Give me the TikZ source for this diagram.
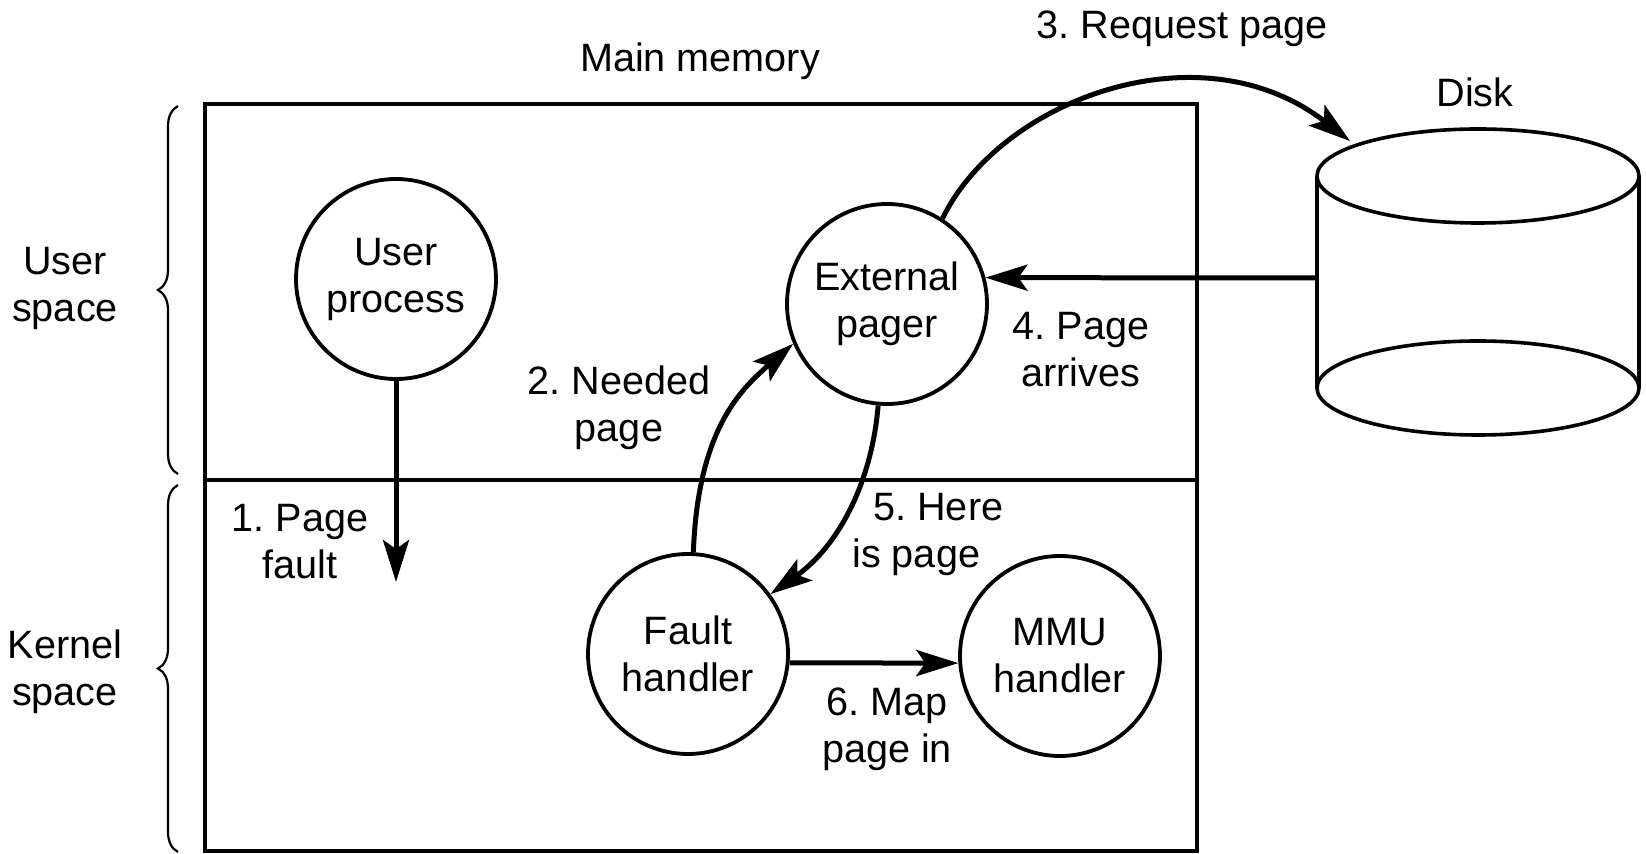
\documentclass[tikz,border=0pt]{standalone}
\usepackage{fontspec}
\setmainfont{Liberation Sans}
\usetikzlibrary{arrows.meta,decorations.pathreplacing}
\frenchspacing
\begin{document}
\begin{tikzpicture}[x=0.5pt,y=-0.5pt,
  txt/.style={font=\fontsize{19.8}{23.5}\selectfont, align=center, inner sep=0pt},
  proc/.style={circle, draw, line width=1.9pt, minimum size=100pt, inner sep=0pt,
               font=\fontsize{19.8}{23.5}\selectfont, align=center},
  arr/.style={line width=2.5pt, -{Stealth[length=21pt,width=13pt,inset=4.5pt]}},
  brc/.style={decorate, decoration={brace, amplitude=10pt}, line width=1.1pt},
  frame/.style={line width=1.8pt}]
\useasboundingbox (0,0) rectangle (1646,854);

% main memory box and divider
\draw[frame] (205,104) rectangle (1197,851);
\draw[frame] (205,480) -- (1195,480);

% braces
\draw[brc] (178,474) -- (178,106);
\draw[brc] (178,852) -- (178,485);

% disk
\draw[frame] (1478,176) ellipse [x radius=80.5pt, y radius=23.5pt];
\draw[frame] (1478,388) ellipse [x radius=80.5pt, y radius=23.5pt];
\draw[frame] (1317,176) -- (1317,388);
\draw[frame] (1639,176) -- (1639,388);
\coordinate (dL) at (1317,278);
\coordinate (dT) at (1350,141);

% processes
\node[proc] (up)  at (396,279)  {User\\process};
\node[proc] (ep)  at (887,304)  {External\\pager};
\node[proc] (fh)  at (688,654)  {Fault\\handler};
\node[proc] (mmu) at (1060,656) {MMU\\handler};

% labels
\node[txt] (mm) at (700,61)   {Main memory};
\node[txt] (l3) at (1182,29)  {3. Request page};
\node[txt] (dk) at (1475,92)  {Disk};
\node[txt] (us) at (65,288)   {User\\space};
\node[txt] (ks) at (65,672)   {Kernel\\space};
\node[txt] (l1) at (300,542)  {1. Page\\fault};
\node[txt] (l2) at (619,408)  {2. Needed\\page};
\node[txt] (l4) at (1081,350) {4. Page\\arrives};
\node[txt, align=left, anchor=west] (l5) at (852,534) {\hspace*{10.5pt}5. Here\\is page};
\node[txt] (l6) at (887,729)  {6. Map\\page in};

% arrows
\coordinate (pf) at (396,582);
\draw[arr] (up.south) -- (pf);
\draw[arr] (fh.87) .. controls (698,430) and (740,390) .. (ep.203);
\draw[arr] (ep.57) .. controls (1000,100) and (1200,25) .. (dT);
\draw[arr] (dL) -- (ep.15);
\draw[arr] (ep.-95) .. controls (872,480) and (840,545) .. (fh.36);
\draw[arr] (fh.-5) -- (mmu.184);
\end{tikzpicture}
\end{document}
